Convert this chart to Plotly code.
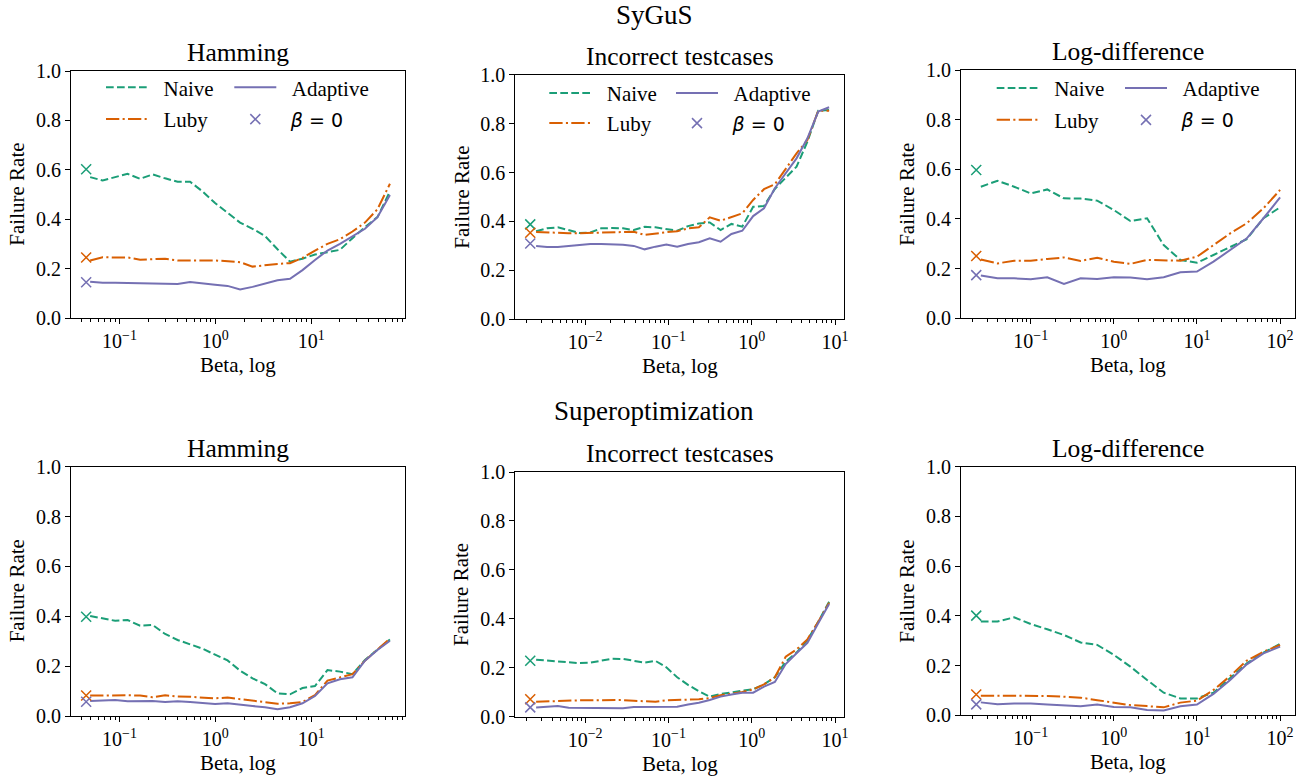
import plotly.graph_objects as go

# ---------------- data ----------------
beta_ham = [0.0493, 0.0666, 0.0899, 0.1214, 0.1639, 0.2213, 0.2988, 0.4034, 0.5446,
            0.7354, 0.9931, 1.341, 1.811, 2.444, 3.300, 4.457, 6.018, 8.124, 10.97,
            14.81, 20.00, 27.01, 36.46, 49.23, 66.47]
beta_inc = [0.002576, 0.003478, 0.004693, 0.006335, 0.008552, 0.01155, 0.01559, 0.02103,
            0.02840, 0.03835, 0.05176, 0.06988, 0.09432, 0.1273, 0.1718, 0.2320, 0.3132,
            0.4228, 0.5707, 0.7703, 1.040, 1.404, 1.895, 2.558, 3.453, 4.661, 6.292, 8.494]
beta_log = [0.0251, 0.0398, 0.0631, 0.1, 0.158, 0.251, 0.398, 0.631, 1.0, 1.58, 2.51,
            3.98, 6.31, 10.0, 15.8, 25.1, 39.8, 63.1, 100.0]
beta0_ham = 0.0448
beta0_inc = 0.00219
beta0_log = 0.0221

# SyGuS
sygus_ham_naive = [0.571, 0.557, 0.571, 0.584, 0.564, 0.582, 0.566, 0.552, 0.552, 0.513,
                   0.466, 0.428, 0.387, 0.362, 0.333, 0.279, 0.229, 0.241, 0.258, 0.267,
                   0.277, 0.324, 0.369, 0.409, 0.513]
sygus_ham_luby = [0.234, 0.247, 0.246, 0.246, 0.237, 0.238, 0.241, 0.234, 0.233, 0.234,
                  0.234, 0.231, 0.227, 0.209, 0.216, 0.220, 0.223, 0.244, 0.274, 0.301,
                  0.320, 0.351, 0.387, 0.441, 0.544]
sygus_ham_adaptive = [0.148, 0.144, 0.144, 0.143, 0.143, 0.141, 0.140, 0.139, 0.147, 0.140,
                      0.136, 0.131, 0.117, 0.127, 0.141, 0.154, 0.160, 0.195, 0.236, 0.274,
                      0.301, 0.331, 0.362, 0.409, 0.499]
sygus_ham_beta0 = [0.603, 0.246, 0.146]

sygus_inc_naive = [0.360, 0.372, 0.376, 0.364, 0.353, 0.355, 0.372, 0.373, 0.372, 0.365,
                   0.378, 0.376, 0.368, 0.362, 0.381, 0.392, 0.396, 0.365, 0.390, 0.379,
                   0.460, 0.463, 0.533, 0.577, 0.624, 0.726, 0.853, 0.856]
sygus_inc_luby = [0.357, 0.355, 0.352, 0.352, 0.352, 0.353, 0.356, 0.357, 0.358, 0.358,
                  0.345, 0.352, 0.356, 0.360, 0.372, 0.376, 0.417, 0.403, 0.417, 0.433,
                  0.488, 0.532, 0.552, 0.615, 0.678, 0.733, 0.853, 0.853]
sygus_inc_adaptive = [0.300, 0.296, 0.296, 0.301, 0.305, 0.308, 0.308, 0.308, 0.305, 0.300,
                      0.286, 0.297, 0.306, 0.297, 0.308, 0.315, 0.331, 0.317, 0.349, 0.362,
                      0.422, 0.454, 0.536, 0.597, 0.658, 0.740, 0.849, 0.867]
sygus_inc_beta0 = [0.388, 0.354, 0.310]

sygus_log_naive = [0.530, 0.554, 0.530, 0.503, 0.519, 0.483, 0.482, 0.474, 0.436, 0.392,
                   0.403, 0.295, 0.235, 0.224, 0.255, 0.286, 0.319, 0.403, 0.447]
sygus_log_luby = [0.237, 0.221, 0.232, 0.232, 0.239, 0.245, 0.231, 0.244, 0.228, 0.219,
                  0.235, 0.232, 0.232, 0.248, 0.295, 0.342, 0.383, 0.443, 0.517]
sygus_log_adaptive = [0.172, 0.161, 0.161, 0.157, 0.165, 0.138, 0.161, 0.158, 0.165, 0.164,
                      0.157, 0.165, 0.185, 0.188, 0.228, 0.275, 0.322, 0.403, 0.487]
sygus_log_beta0 = [0.597, 0.251, 0.174]

# Superoptimization
superopt_ham_naive = [0.401, 0.392, 0.382, 0.385, 0.362, 0.365, 0.329, 0.305, 0.289, 0.270,
                      0.246, 0.223, 0.182, 0.151, 0.128, 0.091, 0.087, 0.112, 0.120, 0.184,
                      0.178, 0.168, 0.225, 0.265, 0.307]
superopt_ham_luby = [0.082, 0.083, 0.084, 0.083, 0.082, 0.075, 0.083, 0.078, 0.077, 0.074,
                     0.071, 0.074, 0.068, 0.063, 0.058, 0.049, 0.051, 0.056, 0.084, 0.142,
                     0.155, 0.168, 0.222, 0.265, 0.311]
superopt_ham_adaptive = [0.060, 0.063, 0.064, 0.059, 0.059, 0.060, 0.056, 0.059, 0.056, 0.052,
                         0.048, 0.051, 0.044, 0.040, 0.035, 0.027, 0.035, 0.051, 0.080, 0.131,
                         0.147, 0.155, 0.222, 0.265, 0.302]
superopt_ham_beta0 = [0.398, 0.082, 0.057]

superopt_inc_naive = [0.233, 0.229, 0.224, 0.221, 0.219, 0.221, 0.230, 0.237, 0.236, 0.229,
                      0.221, 0.228, 0.202, 0.161, 0.130, 0.104, 0.082, 0.093, 0.101, 0.106,
                      0.112, 0.132, 0.161, 0.225, 0.262, 0.313, 0.388, 0.470]
superopt_inc_luby = [0.061, 0.063, 0.065, 0.068, 0.067, 0.067, 0.068, 0.068, 0.068, 0.065,
                     0.063, 0.061, 0.067, 0.068, 0.068, 0.071, 0.076, 0.088, 0.094, 0.101,
                     0.112, 0.132, 0.161, 0.245, 0.275, 0.316, 0.388, 0.466]
superopt_inc_adaptive = [0.038, 0.042, 0.044, 0.037, 0.036, 0.037, 0.036, 0.036, 0.035, 0.040,
                         0.041, 0.042, 0.040, 0.041, 0.050, 0.057, 0.068, 0.082, 0.091, 0.098,
                         0.098, 0.123, 0.142, 0.215, 0.259, 0.302, 0.382, 0.461]
superopt_inc_beta0 = [0.229, 0.071, 0.038]

superopt_log_naive = [0.377, 0.377, 0.394, 0.367, 0.346, 0.323, 0.293, 0.283, 0.243, 0.196,
                      0.142, 0.091, 0.068, 0.068, 0.091, 0.149, 0.209, 0.252, 0.287]
superopt_log_luby = [0.079, 0.079, 0.079, 0.079, 0.078, 0.075, 0.071, 0.061, 0.051, 0.041,
                     0.037, 0.032, 0.051, 0.059, 0.102, 0.158, 0.220, 0.256, 0.283]
superopt_log_adaptive = [0.052, 0.044, 0.047, 0.047, 0.043, 0.040, 0.036, 0.043, 0.033, 0.032,
                         0.021, 0.019, 0.036, 0.043, 0.086, 0.142, 0.205, 0.249, 0.276]
superopt_log_beta0 = [0.401, 0.084, 0.044]

panel_titles = ["Hamming", "Incorrect testcases", "Log-difference"]
row_titles = ["SyGuS", "Superoptimization"]
series_names = ["Naive", "Luby", "Adaptive"]
y_ticks = [0.0, 0.2, 0.4, 0.6, 0.8, 1.0]
y_ticktext = ["0.0", "0.2", "0.4", "0.6", "0.8", "1.0"]
x_ticks_by_col = [[0.1, 1, 10], [0.01, 0.1, 1, 10], [0.1, 1, 10, 100]]
x_ticktext_by_col = [
    ["10<sup>−1</sup>", "10<sup>0</sup>", "10<sup>1</sup>"],
    ["10<sup>−2</sup>", "10<sup>−1</sup>", "10<sup>0</sup>", "10<sup>1</sup>"],
    ["10<sup>−1</sup>", "10<sup>0</sup>", "10<sup>1</sup>", "10<sup>2</sup>"],
]

# ---------------- styling / layout ----------------
W, H = 1308, 777
SERIF = "Liberation Serif"
LBL = 21      # axis labels / legend
TICK = 20     # tick labels
TTL = 25.5    # panel titles
SUP = 27      # section titles
COLORS = ["#1b9e77", "#d95f02", "#7570b3"]
DASHES = ["7.7px,3.3px", "13.3px,3.3px,2.1px,3.3px", "solid"]

# axes boxes in pixels: (left, right, top, bottom)
boxes = {
    (0, 0): (71, 405.3, 71, 318.3),
    (0, 1): (515.3, 844, 74.7, 319.3),
    (0, 2): (961, 1295.3, 70, 318.3),
    (1, 0): (71, 405.3, 466.7, 716),
    (1, 1): (515.3, 844, 472, 716.7),
    (1, 2): (961, 1295.3, 466.7, 715.3),
}
x_ranges = [(-1.507, 1.983), (-2.839, 1.108), (-1.839, 2.183)]
betas = [beta_ham, beta_inc, beta_log]
beta0s = [beta0_ham, beta0_inc, beta0_log]
data = {
    (0, 0): (sygus_ham_naive, sygus_ham_luby, sygus_ham_adaptive, sygus_ham_beta0),
    (0, 1): (sygus_inc_naive, sygus_inc_luby, sygus_inc_adaptive, sygus_inc_beta0),
    (0, 2): (sygus_log_naive, sygus_log_luby, sygus_log_adaptive, sygus_log_beta0),
    (1, 0): (superopt_ham_naive, superopt_ham_luby, superopt_ham_adaptive, superopt_ham_beta0),
    (1, 1): (superopt_inc_naive, superopt_inc_luby, superopt_inc_adaptive, superopt_inc_beta0),
    (1, 2): (superopt_log_naive, superopt_log_luby, superopt_log_adaptive, superopt_log_beta0),
}
# legend anchor positions (handle start x for two columns, y of two rows) per top panel
legend_pos = {
    0: ((106, 234.3), (87.7, 119.3)),
    1: ((549.3, 676), (93.3, 123.3)),
    2: ((996.7, 1125), (88.3, 120)),
}

minor_vals = [m * 10 ** e for e in range(-3, 3) for m in range(2, 10)]

fig = go.Figure()
layout = dict(width=W, height=H, margin=dict(l=0, r=0, t=0, b=0, autoexpand=False),
              paper_bgcolor="white", plot_bgcolor="white",
              font=dict(family=SERIF, size=LBL, color="black"),
              showlegend=True, annotations=[])

def legend_name(i):
    return "legend" if i == 0 else f"legend{i + 1}"

for (r, c), (left, right, top, bottom) in boxes.items():
    k = r * 3 + c
    xa = "xaxis" if k == 0 else f"xaxis{k + 1}"
    ya = "yaxis" if k == 0 else f"yaxis{k + 1}"
    xref = "x" if k == 0 else f"x{k + 1}"
    yref = "y" if k == 0 else f"y{k + 1}"
    layout[xa] = dict(
        type="log", domain=[left / W, right / W], anchor=yref, automargin=False,
        range=list(x_ranges[c]), tickvals=x_ticks_by_col[c], ticktext=x_ticktext_by_col[c],
        ticks="outside", ticklen=5, tickwidth=1.1, tickcolor="black",
        showline=True, mirror=True, linecolor="black", linewidth=1.1,
        showgrid=False, zeroline=False, tickfont=dict(family=SERIF, size=TICK),
        minor=dict(tickvals=minor_vals, ticks="outside", ticklen=3, tickwidth=0.8,
                   tickcolor="black", showgrid=False),
    )
    layout[ya] = dict(
        domain=[1 - bottom / H, 1 - top / H], anchor=xref, range=[0, 1], automargin=False,
        tickvals=y_ticks, ticktext=y_ticktext,
        ticks="outside", ticklen=5, tickwidth=1.1, tickcolor="black",
        showline=True, mirror=True, linecolor="black", linewidth=1.1,
        showgrid=False, zeroline=False, tickfont=dict(family=SERIF, size=TICK),
    )
    naive, luby, adaptive, b0 = data[(r, c)]
    for j, ys in enumerate([naive, luby, adaptive]):
        tr = dict(x=betas[c], y=ys, mode="lines", name=series_names[j],
                  line=dict(color=COLORS[j], width=2, dash=DASHES[j]),
                  xaxis=xref, yaxis=yref, showlegend=False)
        if r == 0:
            tr.update(showlegend=True, legend=legend_name(c * 4 + j),
                      name="\u2002" + series_names[j])
        fig.add_trace(go.Scatter(**tr))
    for j in range(3):
        tr = dict(x=[beta0s[c]], y=[b0[j]], mode="markers", name="β = 0",
                  marker=dict(symbol="x-thin", size=10, color=COLORS[j],
                              line=dict(color=COLORS[j], width=1.5)),
                  xaxis=xref, yaxis=yref, showlegend=False)
        if r == 0 and j == 2:
            tr.update(showlegend=True, legend=legend_name(c * 4 + 3),
                      name="\u2002<i>β</i> = 0")
        fig.add_trace(go.Scatter(**tr))

    cx = (left + right) / 2 / W
    # panel title
    layout["annotations"].append(dict(
        text=panel_titles[c], x=cx, y=1 - top / H, xref="paper", yref="paper",
        xanchor="center", yanchor="bottom", yshift=2, showarrow=False,
        font=dict(family=SERIF, size=TTL, color="black")))
    # x axis title
    layout["annotations"].append(dict(
        text="Beta, log", x=cx, y=1 - (bottom + 47) / H, xref="paper", yref="paper",
        xanchor="center", yanchor="middle", showarrow=False,
        font=dict(family=SERIF, size=LBL, color="black")))
    # y axis title
    ytx = [17, 461.7, 906.7][c]
    layout["annotations"].append(dict(
        text="Failure Rate", x=ytx / W, y=1 - (top + bottom) / 2 / H, xref="paper",
        yref="paper", xanchor="center", yanchor="middle", textangle=-90,
        showarrow=False, font=dict(family=SERIF, size=LBL, color="black")))

# row (figure section) titles
for txt, yc in zip(row_titles, [15, 411]):
    layout["annotations"].append(dict(
        text=txt, x=0.5, y=1 - yc / H, xref="paper", yref="paper",
        xanchor="center", yanchor="middle", showarrow=False,
        font=dict(family=SERIF, size=SUP, color="black")))

# legends
for c in range(3):
    (hx1, hx2), (ry1, ry2) = legend_pos[c]
    spots = [(hx1, ry1), (hx1, ry2), (hx2, ry1), (hx2, ry2)]
    for j, (hx, ry) in enumerate(spots):
        fnt = dict(family=SERIF, size=LBL, color="black") if j < 3 else \
            dict(family="DejaVu Sans", size=19, color="black")
        layout[legend_name(c * 4 + j)] = dict(
            x=(hx - 5) / W, y=1 - ry / H, xanchor="left", yanchor="middle",
            bgcolor="rgba(0,0,0,0)", borderwidth=0, itemwidth=42,
            font=fnt, orientation="v", tracegroupgap=0)

fig.update_layout(**layout)
fig.write_html("out.html", config={"displayModeBar": False},
               post_script="document.body.style.margin='0px';")
